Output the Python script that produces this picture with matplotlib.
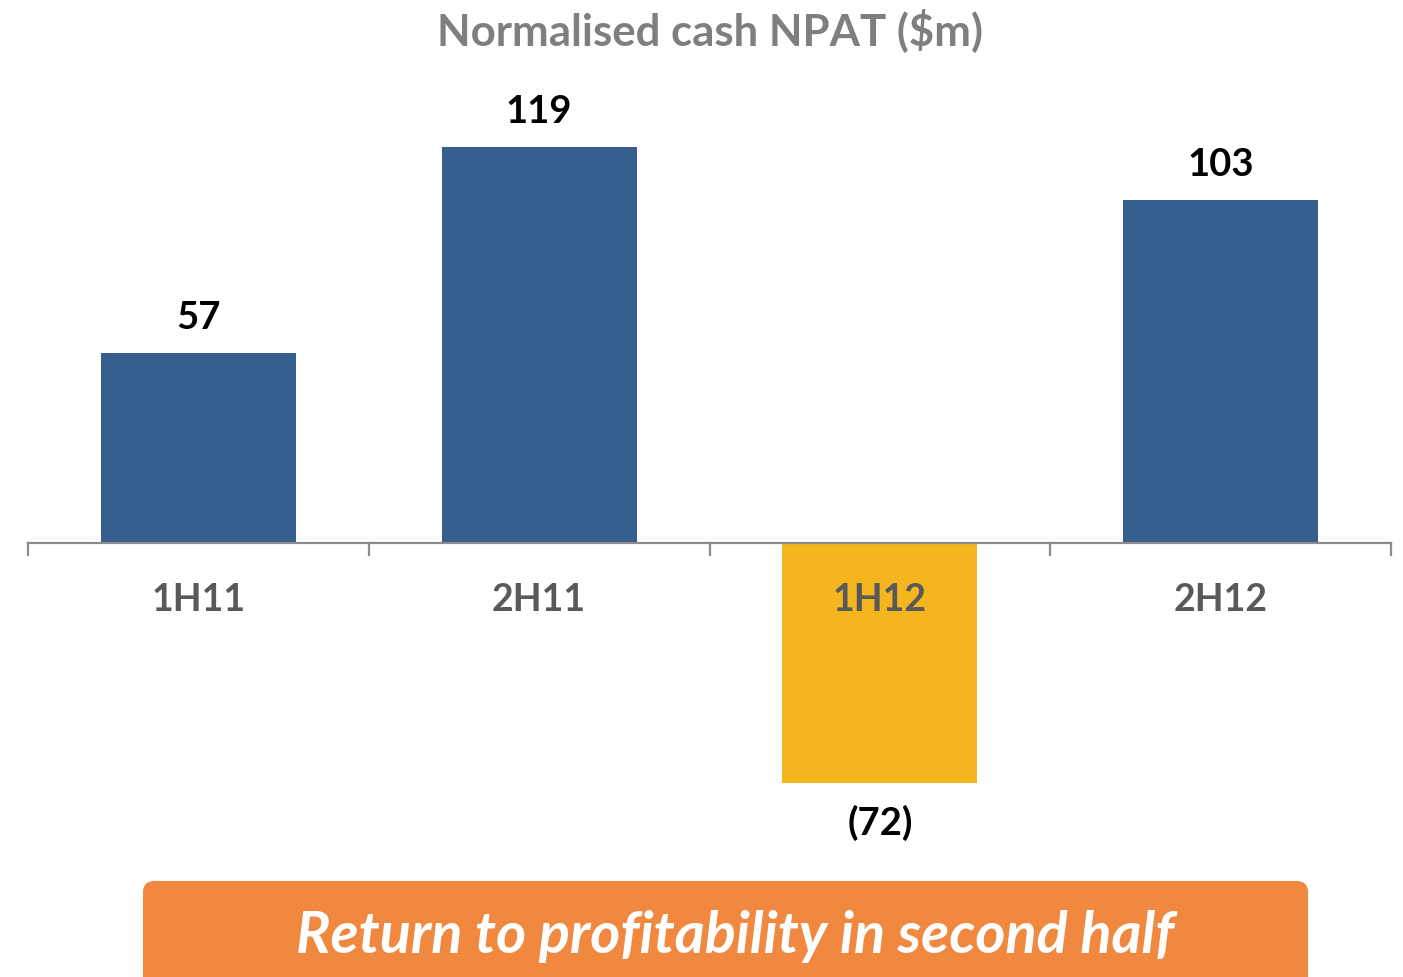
import matplotlib
matplotlib.use("Agg")
import matplotlib.pyplot as plt
from matplotlib.patches import FancyBboxPatch

plt.rcParams["font.family"] = ["Lato", "DejaVu Sans"]

periods = ["1H11", "2H11", "1H12", "2H12"]
npat = [57, 119, -72, 103]
labels = ["57", "119", "(72)", "103"]

C_BLUE = "#365F8F"
C_GOLD = "#F4B51F"
C_ORANGE = "#F0883F"
C_AXIS = "#8C8C8C"

W, H = 1403, 978
fig = plt.figure(figsize=(W / 100, H / 100), dpi=100)
# axes mapped so that ylim spans pixel rows 148..784
ax = fig.add_axes([28 / W, (H - 784) / H, (1391 - 28) / W, (784 - 148) / H])
ax.set_xlim(-0.5, 3.5)
ax.set_ylim(min(npat), max(npat))

colors = [C_GOLD if v < 0 else C_BLUE for v in npat]
ax.bar(range(len(npat)), npat, width=0.572, color=colors, zorder=2)

for sp in ax.spines.values():
    sp.set_visible(False)
ax.axhline(0, color=C_AXIS, lw=1.6, zorder=3, clip_on=False)
for xb in [-0.5, 0.5, 1.5, 2.5, 3.5]:
    ax.plot([xb, xb], [0, -3.6], color=C_AXIS, lw=1.6, clip_on=False, zorder=3)
ax.set_xticks([])
ax.set_yticks([])

for i, (v, lab) in enumerate(zip(npat, labels)):
    if v >= 0:
        ax.annotate(lab, (i, v), xytext=(0, 14), textcoords="offset points",
                    ha="center", va="bottom", fontsize=27.5, fontweight="bold",
                    color="black", annotation_clip=False)
    else:
        ax.annotate(lab, (i, v), xytext=(0, -15), textcoords="offset points",
                    ha="center", va="top", fontsize=27.5, fontweight="bold",
                    color="black", annotation_clip=False)
    ax.annotate(periods[i], (i, 0), xytext=(0, -40), textcoords="offset points",
                ha="center", va="center", fontsize=27, fontweight="bold",
                color="#595959", annotation_clip=False, zorder=4)

fig.text(710 / W, 1 - 30 / H, "Normalised cash NPAT ($m)", ha="center", va="center",
         fontsize=31.5, fontweight="bold", color="#7F7F7F")

banner = FancyBboxPatch((143 / W, -0.05), (1308 - 143) / W, (0.05 + (H - 882) / H),
                        boxstyle="round,pad=0,rounding_size=0.008",
                        transform=fig.transFigure, facecolor=C_ORANGE,
                        edgecolor="none", mutation_aspect=W / H)
fig.patches.append(banner)
fig.text(735 / W, 1 - 937 / H, "Return to profitability in second half",
         ha="center", va="center", fontsize=41.5, fontweight="bold",
         fontstyle="italic", color="white")

fig.savefig("out.png", dpi=100, facecolor="white")
